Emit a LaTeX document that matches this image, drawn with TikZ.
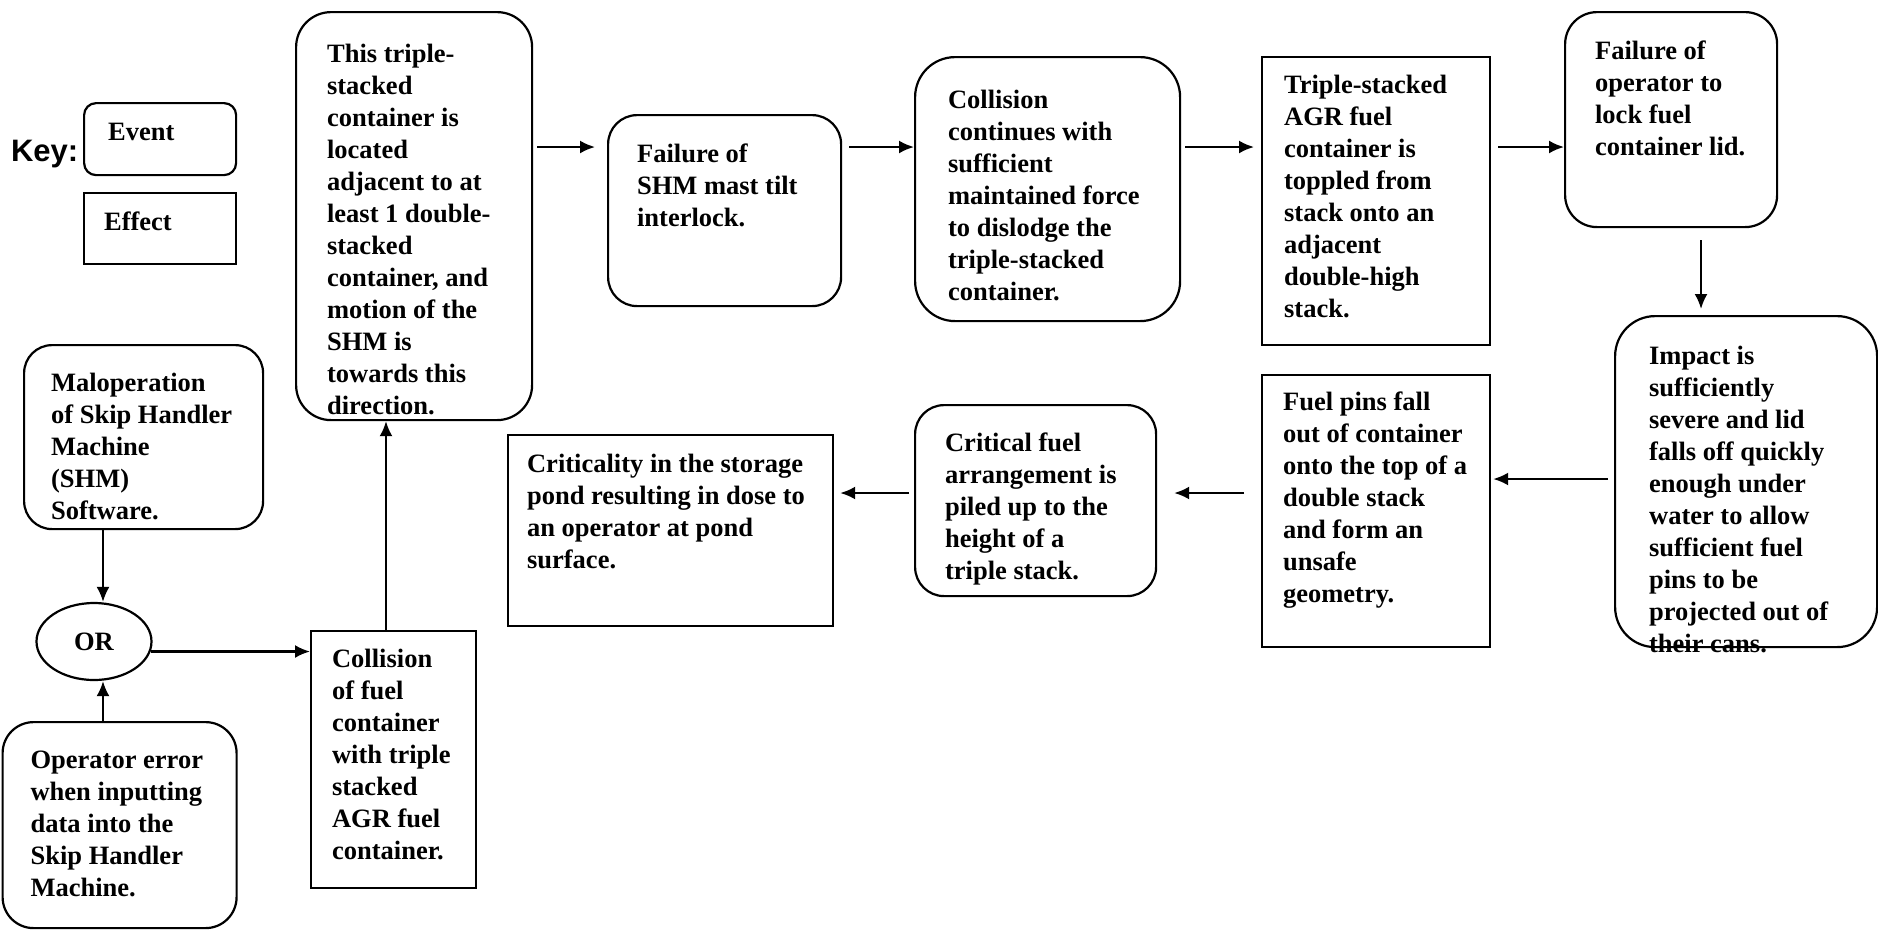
\documentclass[tikz,border=0pt]{standalone}
\usepackage{fontspec}
\setmainfont{Liberation Serif}
\newfontfamily\keyfont{Liberation Sans}
\usepackage{tikz}
\usetikzlibrary{shapes.geometric,arrows.meta}
\tikzstyle{event} = [rectangle, draw, anchor=north west]
\tikzstyle{effect} = [rectangle, draw, anchor=north west]
\tikzstyle{gate} = [ellipse, draw, minimum width=115pt, minimum height=77pt, inner sep=0pt]
\newcommand{\boxtext}[3]{\parbox[c][#2pt][t]{#1pt}{#3}}

\begin{document}
\begin{tikzpicture}[->,>={Latex[length=15pt,width=13pt]},x=1pt,y=-1pt,line width=2.2pt,
  every node/.style={font=\bfseries\fontsize{26.5}{32}\selectfont}]
  \useasboundingbox (0,0) rectangle (1878,930);

  \node (key) [anchor=base west, inner sep=0pt, font=\keyfont\bfseries\fontsize{31}{36}\selectfont] at (10,161) {Key:};
  \node[event, rounded corners=12pt, inner xsep=24pt, inner ysep=20pt] (keyevent) at (83,102) {\boxtext{104}{32}{Event}};
  \node[effect, inner xsep=20pt, inner ysep=19pt] (keyeffect) at (83,192) {\boxtext{112}{33}{Effect}};

  \node[event, rounded corners=35pt, inner xsep=31pt, inner ysep=32pt] (tall) at (295,11)
    {\boxtext{174}{344}{This triple-\\stacked\\container is\\located\\adjacent to at\\least 1 double-\\stacked\\container, and\\motion of the\\SHM is\\towards this\\direction.}};
  \node[event, rounded corners=29pt, inner xsep=29pt, inner ysep=29pt] (shm) at (607,114)
    {\boxtext{175}{133}{Failure of\\SHM mast tilt\\interlock.}};
  \node[event, rounded corners=40pt, inner xsep=33pt, inner ysep=33pt] (cont) at (914,56)
    {\boxtext{199}{198}{Collision\\continues with\\sufficient\\maintained force\\to dislodge the\\triple-stacked\\container.}};
  \node[effect, inner xsep=22pt, inner ysep=18pt] (topple) at (1261,56)
    {\boxtext{184}{252}{Triple-stacked\\AGR fuel\\container is\\toppled from\\stack onto an\\adjacent\\double-high\\stack.}};
  \node[event, rounded corners=32pt, inner xsep=30pt, inner ysep=29pt] (lid) at (1564,11)
    {\boxtext{152}{157}{Failure of\\operator to\\lock fuel\\container lid.}};
  \node[event, rounded corners=40pt, inner xsep=34pt, inner ysep=30pt] (impact) at (1614,315)
    {\boxtext{194}{271}{Impact is\\sufficiently\\severe and lid\\falls off quickly\\enough under\\water to allow\\sufficient fuel\\pins to be\\projected out of\\their cans.}};
  \node[effect, inner xsep=21pt, inner ysep=17pt] (pins) at (1261,374)
    {\boxtext{186}{238}{Fuel pins fall\\out of container\\onto the top of a\\double stack\\and form an\\unsafe\\geometry.}};
  \node[event, rounded corners=29pt, inner xsep=30pt, inner ysep=28pt] (pile) at (914,404)
    {\boxtext{181}{135}{Critical fuel\\arrangement is\\piled up to the\\height of a\\triple stack.}};
  \node[effect, inner xsep=19pt, inner ysep=19pt] (crit) at (507,434)
    {\boxtext{287}{153}{Criticality in the storage\\pond resulting in dose to\\an operator at pond\\surface.}};

  \node[event, rounded corners=28pt, inner xsep=27pt, inner ysep=28pt] (malop) at (23,344)
    {\boxtext{185}{128}{Maloperation\\of Skip Handler\\Machine\\(SHM)\\Software.}};
  \node[gate] (or) at (94,641.5) {OR};
  \node[event, rounded corners=31pt, inner xsep=28pt, inner ysep=29pt] (operr) at (1.5,721)
    {\boxtext{178}{148}{Operator error\\when inputting\\data into the\\Skip Handler\\Machine.}};
  \node[effect, inner xsep=21pt, inner ysep=18pt] (coll) at (310,630)
    {\boxtext{123}{221}{Collision\\of fuel\\container\\with triple\\stacked\\AGR fuel\\container.}};

  \coordinate (toprow) at (0,147);
  \coordinate (midrow) at (0,479);
  \coordinate (lowrow) at (0,493);
  \coordinate (orx) at (103,0);
  \coordinate (upx) at (386,0);
  \coordinate (downx) at (1701,0);

  \path (tall.east |- toprow) edge[shorten <=4pt, shorten >=12pt] (shm.west |- toprow);
  \path (shm.east |- toprow) edge[shorten <=7pt] (cont.west |- toprow);
  \path (cont.east |- toprow) edge[shorten <=4pt, shorten >=7pt] (topple.west |- toprow);
  \path (topple.east |- toprow) edge[shorten <=7pt] (lid.west |- toprow);
  \path (lid.south -| downx) edge[shorten <=12pt, shorten >=6pt] (impact.north -| downx);
  \path (impact.west |- midrow) edge[shorten <=6pt, shorten >=2pt] (pins.east |- midrow);
  \path (pins.west |- lowrow) edge[shorten <=17pt, shorten >=17pt] (pile.east |- lowrow);
  \path (pile.west |- lowrow) edge[shorten <=5pt, shorten >=6pt] (crit.east |- lowrow);

  \path (malop.south -| orx) edge (or.north -| orx);
  \path (operr.north -| orx) edge (or.south -| orx);
  \path (or.350) edge (or.350 -| coll.west);
  \path (coll.north -| upx) edge (tall.south -| upx);
\end{tikzpicture}
\end{document}
